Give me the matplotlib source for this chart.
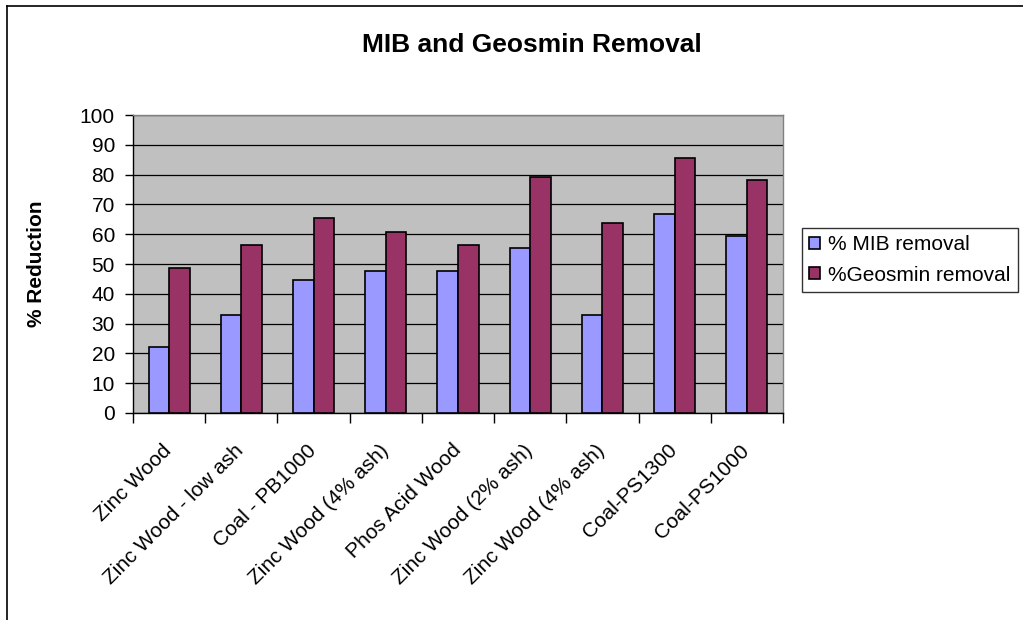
import numpy as np
import matplotlib
import matplotlib.pyplot as plt
from matplotlib.lines import Line2D
from matplotlib.transforms import ScaledTranslation

matplotlib.use('Agg')

categories = ['Zinc Wood', 'Zinc Wood - low ash', 'Coal - PB1000', 'Zinc Wood (4% ash)',
              'Phos Acid Wood', 'Zinc Wood (2% ash)', 'Zinc Wood (4% ash)', 'Coal-PS1300',
              'Coal-PS1000']
mib_removal = [22.2, 33.0, 44.5, 47.8, 47.8, 55.3, 33.0, 66.7, 59.3]
geosmin_removal = [48.5, 56.4, 65.6, 60.9, 56.4, 79.3, 63.9, 85.6, 78.2]
series_names = ['% MIB removal', '%Geosmin removal']

plt.rcParams['font.family'] = ['Liberation Sans', 'DejaVu Sans']

W, H = 1023, 620
fig = plt.figure(figsize=(W / 100, H / 100), dpi=100)
fig.patch.set_facecolor('white')

# plot area in pixel coords
left, right, top, bottom = 133, 783, 115, 413
ax = fig.add_axes([left / W, 1 - bottom / H, (right - left) / W, (bottom - top) / H])
ax.set_facecolor('#C0C0C0')

x = np.arange(len(categories))
bw = 0.285
ax.bar(x - bw / 2, mib_removal, bw, color='#9999FF', edgecolor='black', linewidth=1.2,
       label=series_names[0], zorder=3)
ax.bar(x + bw / 2, geosmin_removal, bw, color='#993366', edgecolor='black', linewidth=1.2,
       label=series_names[1], zorder=3)

ax.set_xlim(-0.5, len(categories) - 0.5)
ax.set_ylim(0, 100)
ax.set_yticks(np.arange(0, 101, 10))
ax.yaxis.grid(True, color='black', linewidth=0.9, zorder=1)
ax.set_axisbelow(True)

ax.set_xticks(np.arange(-0.5, len(categories), 1.0))
ax.set_xticklabels([])
ax.set_xticks(x, minor=True)
ax.set_xticklabels(categories, minor=True, rotation=45, ha='right', va='top',
                   rotation_mode='anchor', fontsize=15)
ax.tick_params(axis='x', which='minor', length=0, pad=20)
ax.tick_params(axis='x', which='major', length=7, width=1, direction='out')
ax.tick_params(axis='y', length=6, width=1, direction='out', labelsize=15, pad=7)
shift = ScaledTranslation(-7 / 100, 0, fig.dpi_scale_trans)
for lbl in ax.get_xticklabels(minor=True):
    lbl.set_transform(lbl.get_transform() + shift)

ax.spines['left'].set_color('black')
ax.spines['bottom'].set_color('black')
ax.spines['top'].set_color('#808080')
ax.spines['right'].set_color('#808080')
for s in ax.spines.values():
    s.set_linewidth(1)

ax.set_ylabel('% Reduction', fontsize=15, fontweight='bold')
ax.yaxis.set_label_coords((46 - left) / (right - left), 0.5)

fig.text(532 / W, 1 - 52 / H, 'MIB and Geosmin Removal', ha='center', va='baseline',
         fontsize=19, fontweight='bold')

leg = fig.legend(loc='upper left', bbox_to_anchor=(802 / W, 1 - 228 / H),
                 fontsize=15, frameon=True, fancybox=False, shadow=False,
                 handlelength=0.5, handleheight=0.5, handletextpad=0.4,
                 borderpad=0.35, labelspacing=0.55, borderaxespad=0)
leg.get_frame().set_edgecolor('black')
leg.get_frame().set_linewidth(1)

# chart area border (cut off at right and bottom)
fig.add_artist(Line2D([6.5 / W, 6.5 / W], [0, 1 - 5.5 / H], transform=fig.transFigure,
                      color='black', linewidth=1.2))
fig.add_artist(Line2D([6.5 / W, 1], [1 - 5.5 / H, 1 - 5.5 / H], transform=fig.transFigure,
                      color='black', linewidth=1.2))

fig.savefig('out.png', dpi=100)
